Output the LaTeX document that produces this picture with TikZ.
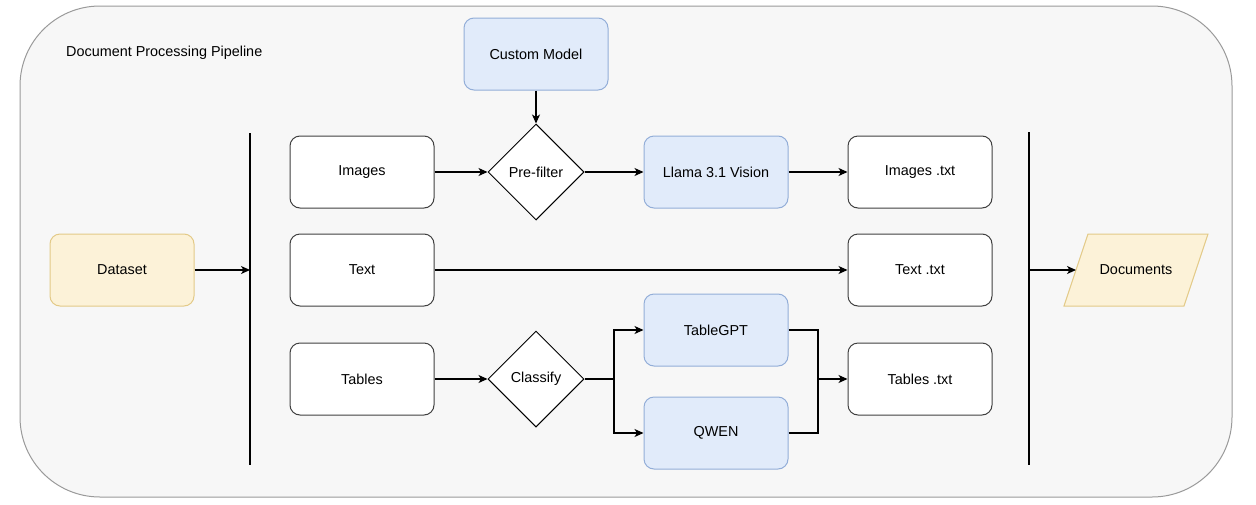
\documentclass[tikz,border=0pt]{standalone}
\usepackage{fontspec}
\setmainfont{Liberation Sans}
\usetikzlibrary{arrows.meta,shapes.geometric}
\definecolor{bgfill}{HTML}{F7F7F7}
\definecolor{bgline}{HTML}{9A9A9A}
\definecolor{bluefill}{HTML}{E1EBFA}
\definecolor{blueline}{HTML}{93AED8}
\definecolor{yelfill}{HTML}{FCF2D8}
\definecolor{yelline}{HTML}{E3CA88}
\definecolor{boxline}{HTML}{404040}
\tikzset{
  every node/.style={font=\fontsize{14.4}{17}\selectfont},
  plainbox/.style={draw=boxline, fill=white, rounded corners=10pt, minimum width=144pt, minimum height=72pt, line width=1pt, inner sep=0pt},
  bluebox/.style={plainbox, draw=blueline, fill=bluefill},
  yelbox/.style={plainbox, draw=yelline, fill=yelfill},
  decision/.style={diamond, aspect=1, draw=black, fill=white, minimum width=96pt, minimum height=96pt, inner sep=0pt, line width=1pt},
  conn/.style={line width=1.2pt, -{Stealth[length=9pt,width=8pt,inset=2.5pt]}},
  seg/.style={line width=1.2pt},
  bar/.style={line width=1.2pt}
}
\begin{document}
\begin{tikzpicture}[x=1pt,y=-1pt]
\useasboundingbox (0,0) rectangle (1256,504);
% container
\draw[fill=bgfill, draw=bgline, line width=1pt, rounded corners=80pt] (20,6) rectangle (1232,497);
\node[anchor=west, inner sep=0pt] (title) at (66,53) {Document Processing Pipeline};

% nodes
\node[bluebox] (custom) at (536,54) {Custom Model};
\node[yelbox] (dataset) at (122,270) {Dataset};
\node[plainbox] (images) at (362,172) {Images};
\node[plainbox] (text) at (362,270) {Text};
\node[plainbox] (tables) at (362,379) {Tables};
\node[decision] (prefilter) at (536,172) {Pre-filter};
\node[decision] (classify) at (536,379) {Classify};
\node[bluebox] (llama) at (716,172) {Llama 3.1 Vision};
\node[bluebox] (tablegpt) at (716,330) {TableGPT};
\node[bluebox] (qwen) at (716,433) {QWEN};
\node[plainbox] (imgtxt) at (920,172) {Images .txt};
\node[plainbox] (texttxt) at (920,270) {Text .txt};
\node[plainbox] (tabtxt) at (920,379) {Tables .txt};
% parallelogram (Documents)
\draw[draw=yelline, fill=yelfill, line width=1pt] (1088,234) -- (1208,234) -- (1184,306) -- (1064,306) -- cycle;
\node (docs) at (1136,270) {Documents};
\coordinate (docsL) at (1076,270);

% bars
\coordinate (lbarT) at (250,133);
\coordinate (lbarB) at (250,465);
\coordinate (rbarT) at (1029,132);
\coordinate (rbarB) at (1029,465);
\draw[bar] (lbarT) -- (lbarB);
\draw[bar] (rbarT) -- (rbarB);

% connectors
\draw[conn] (dataset.east) -- (dataset.east -| lbarT);
\draw[conn] (custom.south) -- (prefilter.north);
\draw[conn] (images.east) -- (prefilter.west);
\draw[conn] (prefilter.east) -- (llama.west);
\draw[conn] (llama.east) -- (imgtxt.west);
\draw[conn] (text.east) -- (texttxt.west);
\draw[conn] (tables.east) -- (classify.west);
\coordinate (split) at (614,379);
\coordinate (merge) at (818,379);
\draw[conn] (classify.east) -- (split) |- (tablegpt.west);
\draw[conn] (split) |- (qwen.west);
\draw[seg] (tablegpt.east) -| (merge);
\draw[seg] (qwen.east) -| (merge);
\draw[conn] (merge) -- (tabtxt.west);
\draw[conn] (docsL -| rbarT) -- (docsL);
\end{tikzpicture}
\end{document}
